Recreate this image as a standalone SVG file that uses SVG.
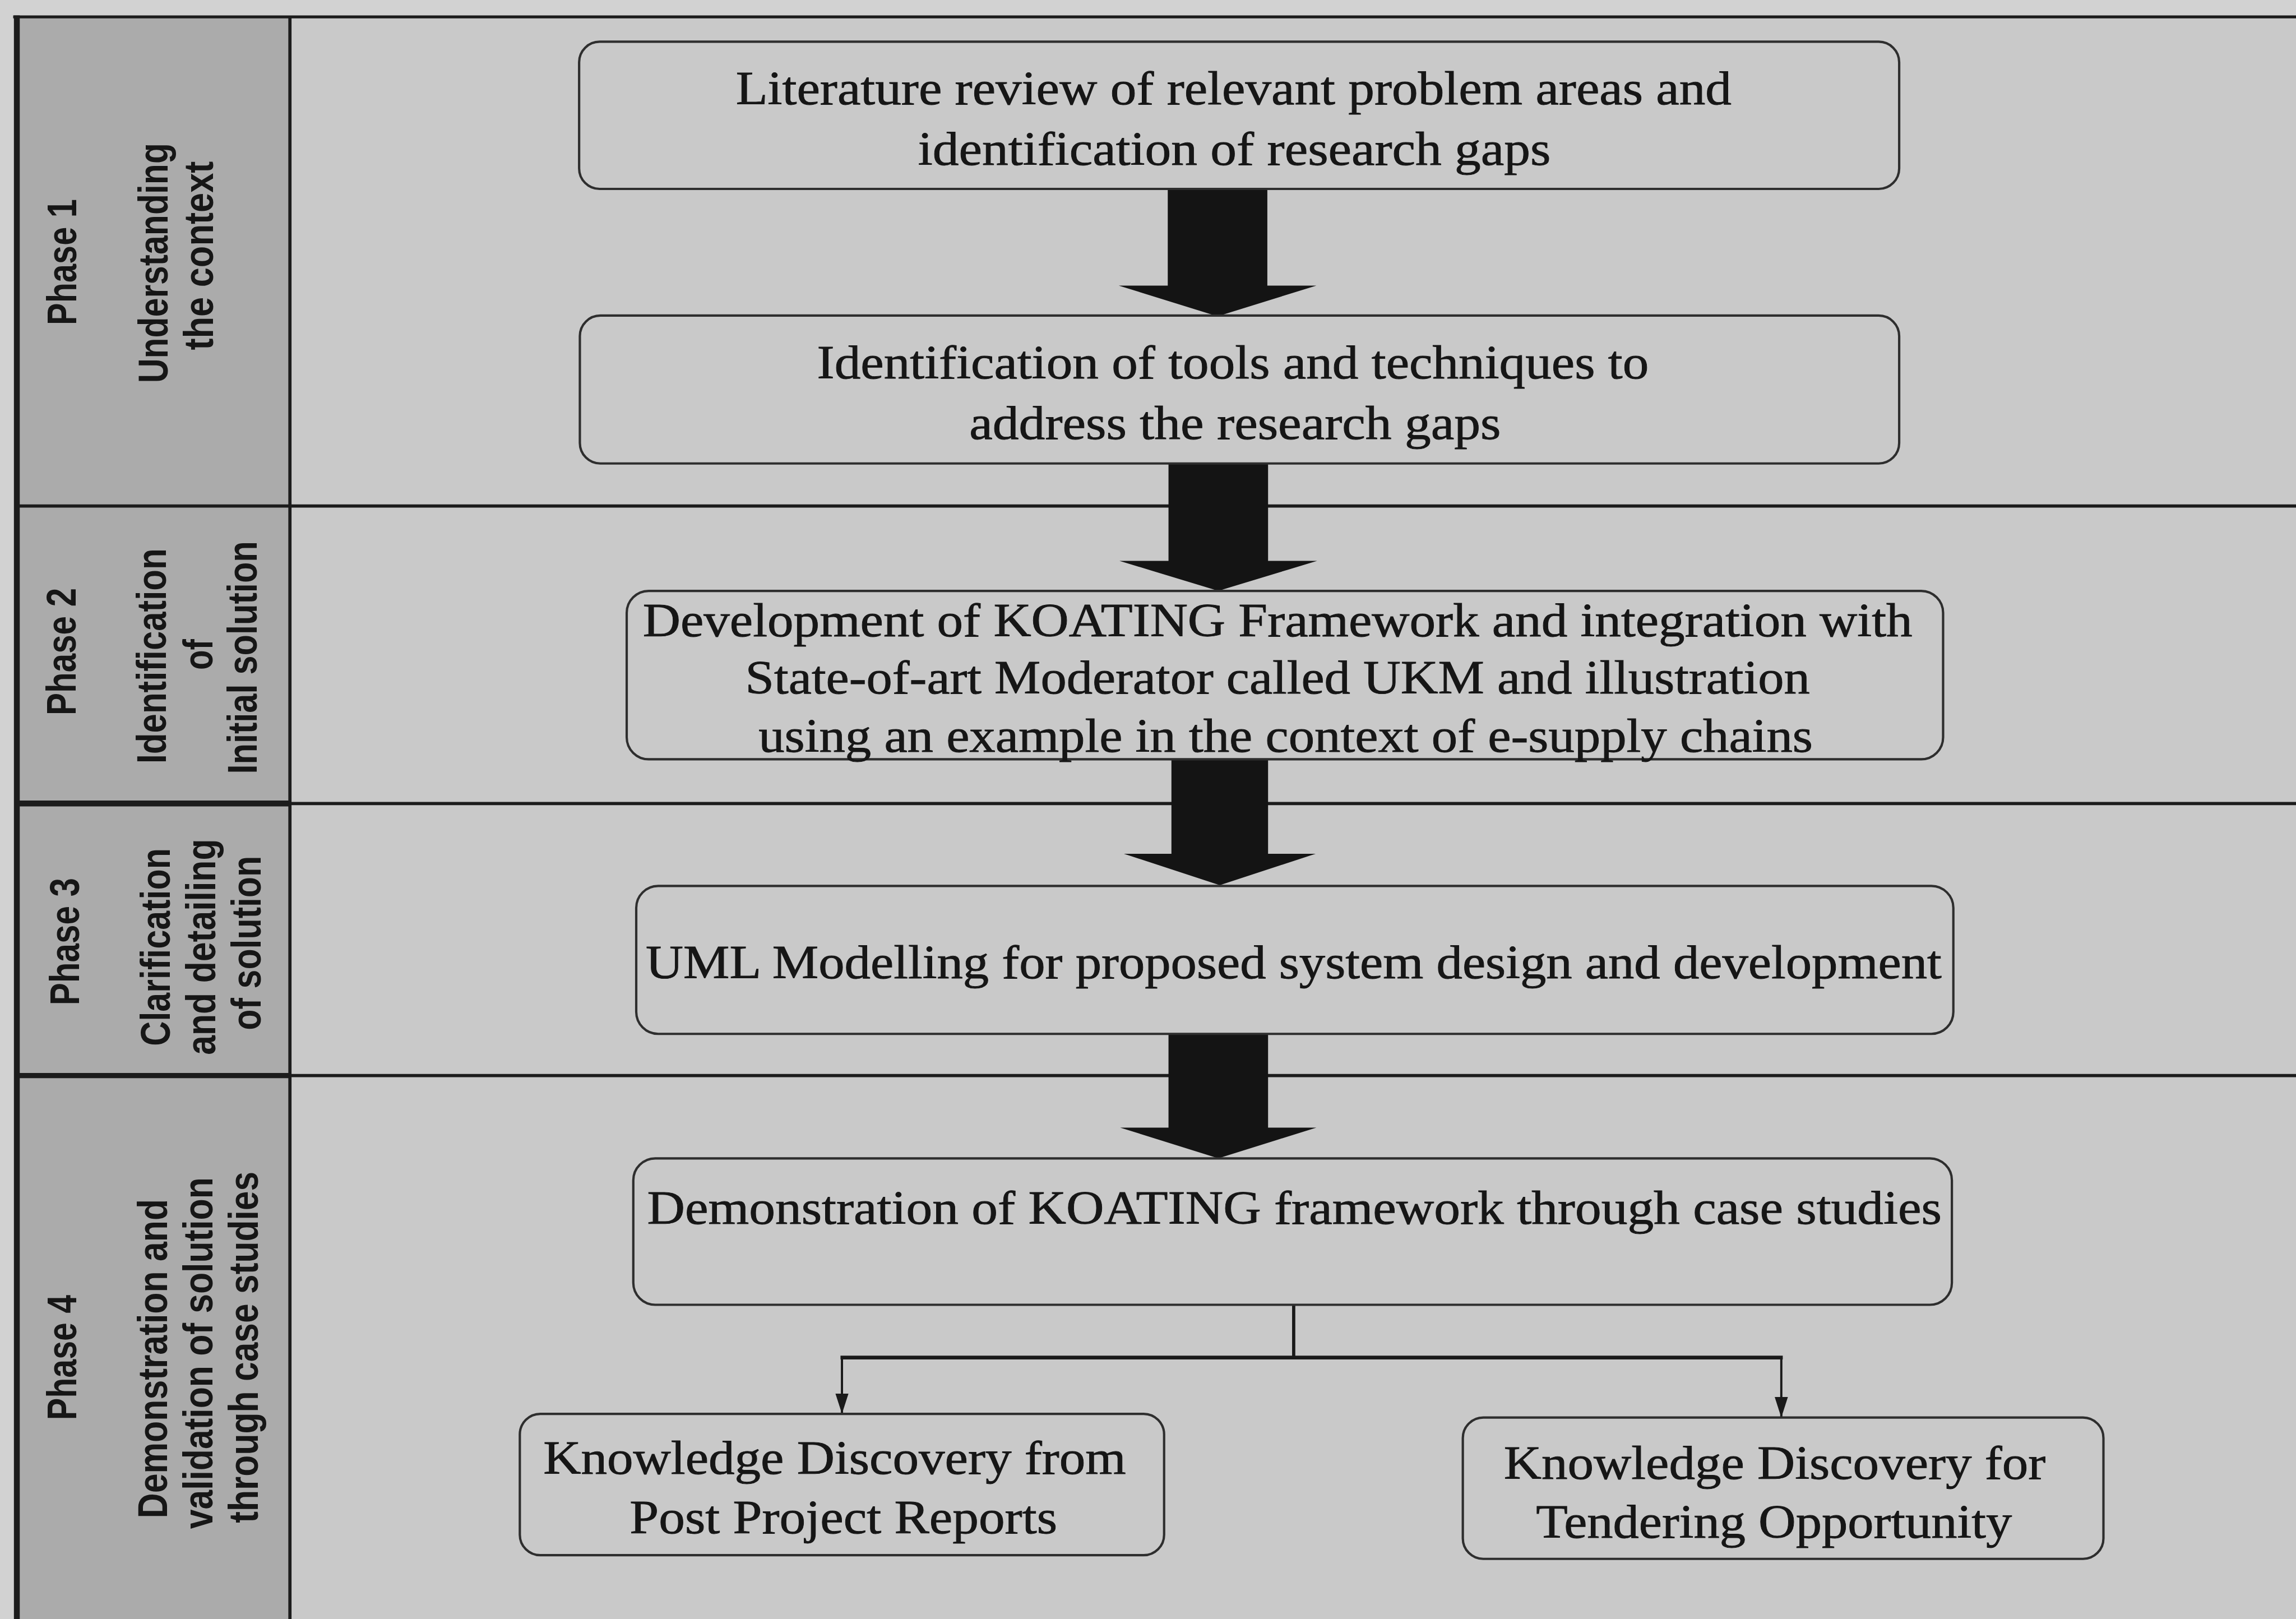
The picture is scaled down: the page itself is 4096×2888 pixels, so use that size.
<svg xmlns="http://www.w3.org/2000/svg" width="4096" height="2888" viewBox="0 0 4096 2888">
  <defs>
    <style>
      .grid { stroke: #1c1c1c; fill: none; }
      .box { fill: none; stroke: #2e2e2e; stroke-width: 1.6; }
      .txt { font-family: "Liberation Serif", "Times New Roman", serif; font-size: 32.6px; fill: #161616; stroke: #161616; stroke-width: 0.35; text-anchor: middle; }
      .lbl { font-family: "Liberation Sans Narrow", "Liberation Sans", Arial, sans-serif; font-weight: bold; font-size: 28.5px; fill: #161616; text-anchor: middle; }
      .big { fill: #141414; }
      .link { stroke: #1a1a1a; fill: none; }
    </style>
    <marker id="ah" markerUnits="userSpaceOnUse" markerWidth="16" markerHeight="10" refX="14" refY="4.5" orient="auto">
      <path d="M0,0 L14,4.5 L0,9 z" fill="#1a1a1a"/>
    </marker>
  </defs>

  <!-- page -->
  <rect width="4096" height="2888" fill="#d2d2d2"/>

  <g transform="scale(2.6122449)">
    <!-- table background -->
    <rect x="11" y="11.5" width="1557" height="1095" fill="#c9c9c9"/>
    <rect x="11" y="11.5" width="187" height="1095" fill="#ababab"/>

    <!-- table rules -->
    <g id="frame" class="grid">
      <line x1="9" y1="11.5" x2="1568" y2="11.5" stroke-width="2"/>
      <line x1="11.5" y1="10.5" x2="11.5" y2="1106" stroke-width="4"/>
      <line x1="198" y1="11.5" x2="198" y2="1106" stroke-width="2.2"/>
      <line x1="11" y1="345.5" x2="1568" y2="345.5" stroke-width="2.2"/>
      <line x1="11" y1="548.7" x2="1568" y2="548.7" stroke-width="2.2"/>
      <line x1="11" y1="734.5" x2="1568" y2="734.5" stroke-width="2.2"/>
      <line x1="11" y1="548.7" x2="198" y2="548.7" stroke-width="4"/>
      <line x1="11" y1="734.5" x2="198" y2="734.5" stroke-width="3.5"/>
    </g>

    <!-- phase labels -->
    <g id="phase1">
      <text class="lbl" transform="translate(52.2,179) rotate(-90)" textLength="86" lengthAdjust="spacingAndGlyphs">Phase 1</text>
      <text class="lbl" transform="translate(114.6,179.6) rotate(-90)" textLength="164" lengthAdjust="spacingAndGlyphs">Understanding</text>
      <text class="lbl" transform="translate(145.5,174.6) rotate(-90)" textLength="129" lengthAdjust="spacingAndGlyphs">the context</text>
    </g>
    <g id="phase2">
      <text class="lbl" transform="translate(51.8,445) rotate(-90)" textLength="87" lengthAdjust="spacingAndGlyphs">Phase 2</text>
      <text class="lbl" transform="translate(113.3,448) rotate(-90)" textLength="147" lengthAdjust="spacingAndGlyphs">Identification</text>
      <text class="lbl" transform="translate(145,447) rotate(-90)" textLength="21" lengthAdjust="spacingAndGlyphs">of</text>
      <text class="lbl" transform="translate(175.4,449) rotate(-90)" textLength="159" lengthAdjust="spacingAndGlyphs">Initial solution</text>
    </g>
    <g id="phase3">
      <text class="lbl" transform="translate(53.9,643) rotate(-90)" textLength="87" lengthAdjust="spacingAndGlyphs">Phase 3</text>
      <text class="lbl" transform="translate(116,646.7) rotate(-90)" textLength="135" lengthAdjust="spacingAndGlyphs">Clarification</text>
      <text class="lbl" transform="translate(147,646.6) rotate(-90)" textLength="147.6" lengthAdjust="spacingAndGlyphs">and detailing</text>
      <text class="lbl" transform="translate(178,644) rotate(-90)" textLength="119" lengthAdjust="spacingAndGlyphs">of solution</text>
    </g>
    <g id="phase4">
      <text class="lbl" transform="translate(52.2,927) rotate(-90)" textLength="85.5" lengthAdjust="spacingAndGlyphs">Phase 4</text>
      <text class="lbl" transform="translate(114,927.8) rotate(-90)" textLength="218" lengthAdjust="spacingAndGlyphs">Demonstration and</text>
      <text class="lbl" transform="translate(145,924) rotate(-90)" textLength="240" lengthAdjust="spacingAndGlyphs">validation of solution</text>
      <text class="lbl" transform="translate(176,920) rotate(-90)" textLength="240" lengthAdjust="spacingAndGlyphs">through case studies</text>
    </g>

    <!-- connectors -->
    <g id="connectors">
      <polygon class="big" points="797.5,129 865.5,129 865.5,195 899,195 831.5,216 764,195 797.5,195"/>
      <polygon class="big" points="798,316.5 866,316.5 866,383 899.5,383 832,403.5 764.5,383 798,383"/>
      <polygon class="big" points="800,518.6 866,518.6 866,583 898.5,583 833,604.5 767.5,583 800,583"/>
      <polygon class="big" points="798,706 866,706 866,770 899,770 832,791 765,770 798,770"/>
      <line class="link" x1="883.5" y1="891" x2="883.5" y2="927" stroke-width="2.2"/>
      <line class="link" x1="574" y1="927" x2="1217.5" y2="927" stroke-width="2.6"/>
      <line class="link" x1="575" y1="927" x2="575" y2="965.5" stroke-width="1.5" marker-end="url(#ah)"/>
      <line class="link" x1="1216.5" y1="927" x2="1216.5" y2="968" stroke-width="1.5" marker-end="url(#ah)"/>
    </g>

    <!-- process boxes -->
    <g id="literature-review">
      <rect class="box" x="395.5" y="28.5" width="901.5" height="100.5" rx="14"/>
      <text class="txt" x="842.5" y="71.1" textLength="680" lengthAdjust="spacingAndGlyphs">Literature review of relevant problem areas and</text>
      <text class="txt" x="843" y="112.5" textLength="432" lengthAdjust="spacingAndGlyphs">identification of research gaps</text>
    </g>
    <g id="tools-techniques">
      <rect class="box" x="396" y="215.5" width="901" height="101" rx="14"/>
      <text class="txt" x="842" y="258.4" textLength="568" lengthAdjust="spacingAndGlyphs">Identification of tools and techniques to</text>
      <text class="txt" x="843.5" y="299.8" textLength="363" lengthAdjust="spacingAndGlyphs">address the research gaps</text>
    </g>
    <g id="koating-development">
      <rect class="box" x="428" y="403.5" width="899" height="115" rx="15"/>
      <text class="txt" x="872.5" y="434.5" textLength="867" lengthAdjust="spacingAndGlyphs">Development of KOATING Framework and integration with</text>
      <text class="txt" x="872.5" y="473.7" textLength="727" lengthAdjust="spacingAndGlyphs">State-of-art Moderator called UKM and illustration</text>
      <text class="txt" x="878" y="513.3" textLength="720" lengthAdjust="spacingAndGlyphs">using an example in the context of e-supply chains</text>
    </g>
    <g id="uml-modelling">
      <rect class="box" x="434.5" y="605" width="899.5" height="101" rx="15"/>
      <text class="txt" x="883.5" y="668" textLength="885" lengthAdjust="spacingAndGlyphs">UML Modelling for proposed system design and development</text>
    </g>
    <g id="demonstration">
      <rect class="box" x="432.5" y="791" width="900.5" height="100" rx="15"/>
      <text class="txt" x="884" y="835.5" textLength="884" lengthAdjust="spacingAndGlyphs">Demonstration of KOATING framework through case studies</text>
    </g>
    <g id="kd-post-project">
      <rect class="box" x="355" y="965.5" width="440" height="96.5" rx="14"/>
      <text class="txt" x="570" y="1006.5" textLength="398" lengthAdjust="spacingAndGlyphs">Knowledge Discovery from</text>
      <text class="txt" x="576" y="1047" textLength="292" lengthAdjust="spacingAndGlyphs">Post Project Reports</text>
    </g>
    <g id="kd-tendering">
      <rect class="box" x="999" y="968" width="437.5" height="96.5" rx="14"/>
      <text class="txt" x="1212" y="1010" textLength="370" lengthAdjust="spacingAndGlyphs">Knowledge Discovery for</text>
      <text class="txt" x="1211.5" y="1050" textLength="325" lengthAdjust="spacingAndGlyphs">Tendering Opportunity</text>
    </g>
  </g>
</svg>
